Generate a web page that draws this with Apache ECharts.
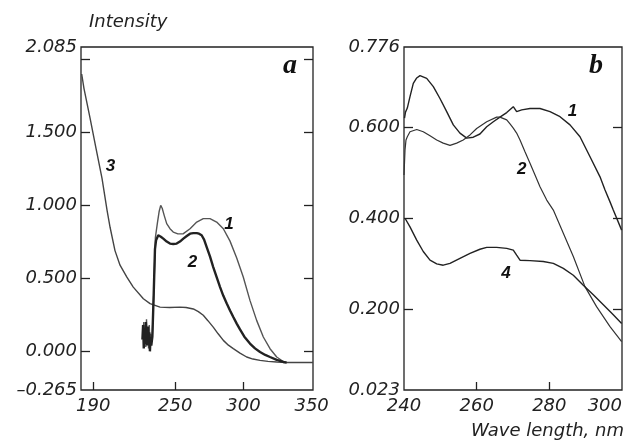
<!DOCTYPE html>
<html>
<head>
<meta charset="utf-8">
<script src="https://cdn.jsdelivr.net/npm/echarts@6/dist/echarts.min.js"></script>
<style>
html,body{margin:0;padding:0;background:#fff;}
#chart{width:630px;height:442px;}
</style>
</head>
<body>
<div id="chart"></div>
<script>
// ---------- Panel a (wave length nm, intensity) ----------
const aCurve1 = [[226.5,0.12],[227,0.20],[227.5,0.06],[228,0.16],[228.5,0.03],[229,0.22],[229.5,0.08],[230,0.14],[230.5,0.02],[231,0.18],[231.5,0.05],[232,0.12],[232.5,0.08],[233.3,0.12],[234.5,0.45],[235.5,0.78],[237,0.88],[238.3,0.96],[239.4,1.00],[240.5,0.98],[242,0.93],[243.8,0.875],[246.2,0.84],[248.6,0.817],[252,0.805],[256.0,0.806],[260.9,0.84],[265.8,0.886],[270.6,0.909],[275.5,0.909],[280.4,0.886],[285.3,0.84],[290.2,0.755],[295.1,0.64],[299.9,0.509],[304.8,0.349],[309.7,0.212],[314.6,0.098],[319.5,0.018],[324.4,-0.039],[329.2,-0.07],[331.7,-0.077]];
const aCurve2 = [[226,0.08],[226.5,0.18],[227,0.02],[227.5,0.14],[228,0.05],[228.5,0.20],[229,0.10],[229.5,0.04],[230,0.17],[230.5,0.06],[231,0.13],[231.5,0.00],[232,0.10],[232.5,0.04],[233.3,0.10],[234.3,0.40],[235.2,0.70],[236.0,0.76],[237.6,0.795],[239.5,0.785],[241.3,0.772],[243.8,0.752],[246.2,0.738],[248.6,0.735],[251.1,0.738],[253.5,0.752],[256.0,0.772],[258.5,0.79],[260.9,0.806],[263.3,0.81],[265.8,0.81],[267.5,0.806],[269.4,0.795],[271.2,0.765],[273.1,0.714],[275.5,0.65],[277.9,0.577],[280.4,0.508],[282.9,0.44],[285.3,0.38],[287.8,0.327],[290.2,0.28],[292.6,0.235],[295.1,0.19],[297.5,0.15],[300.7,0.10],[304.8,0.053],[308.5,0.02],[312.2,-0.005],[316,-0.025],[319.5,-0.039],[324.4,-0.058],[329.2,-0.073],[331.7,-0.077]];
const aCurve3 = [[181.5,1.90],[183.2,1.80],[187.6,1.60],[192.0,1.39],[196.4,1.185],[200.1,0.966],[202.3,0.85],[205.9,0.69],[209.6,0.59],[214.5,0.51],[219.3,0.44],[226.7,0.36],[231.6,0.327],[238.9,0.303],[246,0.30],[253.5,0.303],[258,0.30],[263.3,0.29],[267,0.272],[270.6,0.247],[274,0.21],[277.9,0.166],[281.5,0.12],[285.3,0.075],[289,0.042],[292.6,0.018],[297.5,-0.012],[302.4,-0.039],[307,-0.053],[312.2,-0.062],[318,-0.069],[324.4,-0.073],[331.7,-0.077],[351,-0.077]];
const aXLabels = [190, 250, 300, 350];
const aXTicks = [190, 250, 300];
const aYLabels = [-0.265, 0, 0.5, 1, 1.5, 2.085];
const aYTicks = [0, 0.5, 1, 1.5, 2];

// ---------- Panel b ----------
const bCurve1 = [[240.14,0.620],[240.41,0.633],[240.91,0.642],[241.65,0.667],[242.56,0.696],[243.5,0.708],[244.4,0.713],[246.25,0.707],[248.07,0.689],[249.9,0.663],[251.75,0.634],[253.57,0.605],[255.4,0.587],[257.26,0.576],[259.07,0.578],[260.9,0.585],[262.76,0.601],[264.58,0.612],[266.4,0.622],[268.27,0.632],[270.08,0.645],[271.0,0.634],[272.4,0.638],[274.68,0.641],[277.43,0.641],[280.19,0.634],[282.94,0.623],[285.69,0.605],[288.44,0.579],[291.2,0.535],[293.95,0.491],[295.33,0.462],[296.7,0.436],[297.6,0.418],[299.9,0.374]];
const bCurve2 = [[240.0,0.495],[240.28,0.550],[240.55,0.572],[240.91,0.579],[241.65,0.590],[243.5,0.595],[245.3,0.590],[247.16,0.581],[249.0,0.572],[250.8,0.565],[252.66,0.560],[254.5,0.565],[256.3,0.572],[258.17,0.583],[260.0,0.597],[262.76,0.612],[265.5,0.622],[266.4,0.622],[268.27,0.616],[269.18,0.607],[270.08,0.598],[271.0,0.587],[271.93,0.572],[273.3,0.546],[274.68,0.521],[276.06,0.495],[277.43,0.469],[279.28,0.440],[281.1,0.418],[283.85,0.367],[286.6,0.316],[289.8,0.250],[293.0,0.206],[296.7,0.162],[299.9,0.129]];
const bCurve4 = [[240.28,0.400],[241.65,0.381],[243.5,0.352],[245.3,0.327],[247.16,0.308],[249.0,0.300],[250.8,0.297],[252.66,0.301],[255.4,0.312],[258.17,0.323],[260.9,0.332],[262.76,0.336],[265.5,0.336],[268.27,0.334],[270.08,0.330],[271.0,0.319],[271.93,0.308],[274.68,0.307],[278.34,0.305],[281.1,0.301],[283.85,0.290],[286.6,0.275],[289.35,0.253],[292.1,0.232],[294.86,0.210],[297.6,0.188],[299.9,0.169]];
const bXLabels = [240, 260, 280, 300];
const bXTicks = [260, 280];
const bYLabels = [0.023, 0.2, 0.4, 0.6, 0.776];
const bYTicks = [0.2, 0.4, 0.6];

const FONT = 'DejaVu Sans';
const INK = '#222';
const labelStyle = {fontFamily: FONT, fontStyle: 'italic', fontSize: 18, color: INK};
function fmt3(v){ const s = Number(v).toFixed(3); return s.charAt(0)==='-' ? '\u2013' + s.slice(1) : s; }

function xAxis(grid, min, max, labels, ticks, alignMax){
  const lab = Object.assign({show:true, margin:7, customValues:labels, showMinLabel:true, showMaxLabel:true}, labelStyle);
  if (alignMax) lab.alignMaxLabel = alignMax;
  return {type:'value', gridIndex:grid, position:'bottom', min:min, max:max,
    axisLine:{show:false, onZero:false}, splitLine:{show:false},
    axisTick:{show:true, inside:true, length:8, customValues:ticks, lineStyle:{color:INK, width:1.3}},
    axisLabel:lab};
}
function yAxis(grid, min, max, labels, ticks, pos){
  const lab = pos==='left'
    ? Object.assign({show:true, margin:4, customValues:labels, formatter:fmt3, showMinLabel:true, showMaxLabel:true}, labelStyle)
    : {show:false};
  return {type:'value', gridIndex:grid, position:pos, min:min, max:max,
    axisLine:{show:false, onZero:false}, splitLine:{show:false},
    axisTick:{show:true, inside:true, length:9, customValues:ticks, lineStyle:{color:INK, width:1.3}},
    axisLabel:lab};
}
function line(data, xi, yi, w, c){
  return {type:'line', data:data, xAxisIndex:xi, yAxisIndex:yi, showSymbol:false, symbol:'none',
    smooth:false, lineStyle:{width:w, color:c}, itemStyle:{color:c}, silent:true, animation:false};
}

const chart = echarts.init(document.getElementById('chart'), null, {renderer:'canvas'});
chart.setOption({
  backgroundColor:'#fff',
  animation:false,
  grid:[
    {left:81, top:47, width:232, height:343, show:true, borderColor:INK, borderWidth:1.3, backgroundColor:'transparent', containLabel:false, outerBoundsMode:'none'},
    {left:404, top:47, width:218, height:343, show:true, borderColor:INK, borderWidth:1.3, backgroundColor:'transparent', containLabel:false, outerBoundsMode:'none'}
  ],
  xAxis:[
    xAxis(0, 181, 351, aXLabels, aXTicks, null),
    xAxis(1, 240, 300, bXLabels, bXTicks, 'right')
  ],
  yAxis:[
    yAxis(0, -0.265, 2.085, aYLabels, aYTicks, 'left'),
    yAxis(0, -0.265, 2.085, aYLabels, aYTicks, 'right'),
    yAxis(1, 0.023, 0.776, bYLabels, bYTicks, 'left'),
    yAxis(1, 0.023, 0.776, bYLabels, bYTicks, 'right')
  ],
  series:[
    line(aCurve3, 0, 0, 1.4, '#444'),
    line(aCurve1, 0, 0, 1.4, '#555'),
    line(aCurve2, 0, 0, 2.4, '#222'),
    line(bCurve1, 1, 2, 1.4, '#222'),
    line(bCurve2, 1, 2, 1.2, '#333'),
    line(bCurve4, 1, 2, 1.4, '#222')
  ],
  graphic:[
    {type:'text', style:{x:89, y:22.5, text:'Intensity', textAlign:'left', textVerticalAlign:'middle', font:'italic 18px "DejaVu Sans"', fill:INK}},
    {type:'text', style:{x:624, y:431, text:'Wave length, nm', textAlign:'right', textVerticalAlign:'middle', font:'italic 18px "DejaVu Sans"', fill:INK}},
    {type:'text', style:{x:297, y:65.5, text:'a', textAlign:'right', textVerticalAlign:'middle', font:'italic bold 28px "Liberation Serif"', fill:'#111'}},
    {type:'text', style:{x:603, y:65.5, text:'b', textAlign:'right', textVerticalAlign:'middle', font:'italic bold 28px "Liberation Serif"', fill:'#111'}},
    {type:'text', style:{x:110.5, y:166, text:'3', textAlign:'center', textVerticalAlign:'middle', font:'italic bold 17px "Liberation Sans"', fill:'#111'}},
    {type:'text', style:{x:229, y:224, text:'1', textAlign:'center', textVerticalAlign:'middle', font:'italic bold 17px "Liberation Sans"', fill:'#111'}},
    {type:'text', style:{x:192.5, y:262.5, text:'2', textAlign:'center', textVerticalAlign:'middle', font:'italic bold 17px "Liberation Sans"', fill:'#111'}},
    {type:'text', style:{x:572.5, y:111, text:'1', textAlign:'center', textVerticalAlign:'middle', font:'italic bold 17px "Liberation Sans"', fill:'#111'}},
    {type:'text', style:{x:521.7, y:169, text:'2', textAlign:'center', textVerticalAlign:'middle', font:'italic bold 17px "Liberation Sans"', fill:'#111'}},
    {type:'text', style:{x:506, y:273, text:'4', textAlign:'center', textVerticalAlign:'middle', font:'italic bold 17px "Liberation Sans"', fill:'#111'}}
  ]
});
</script>
</body>
</html>
